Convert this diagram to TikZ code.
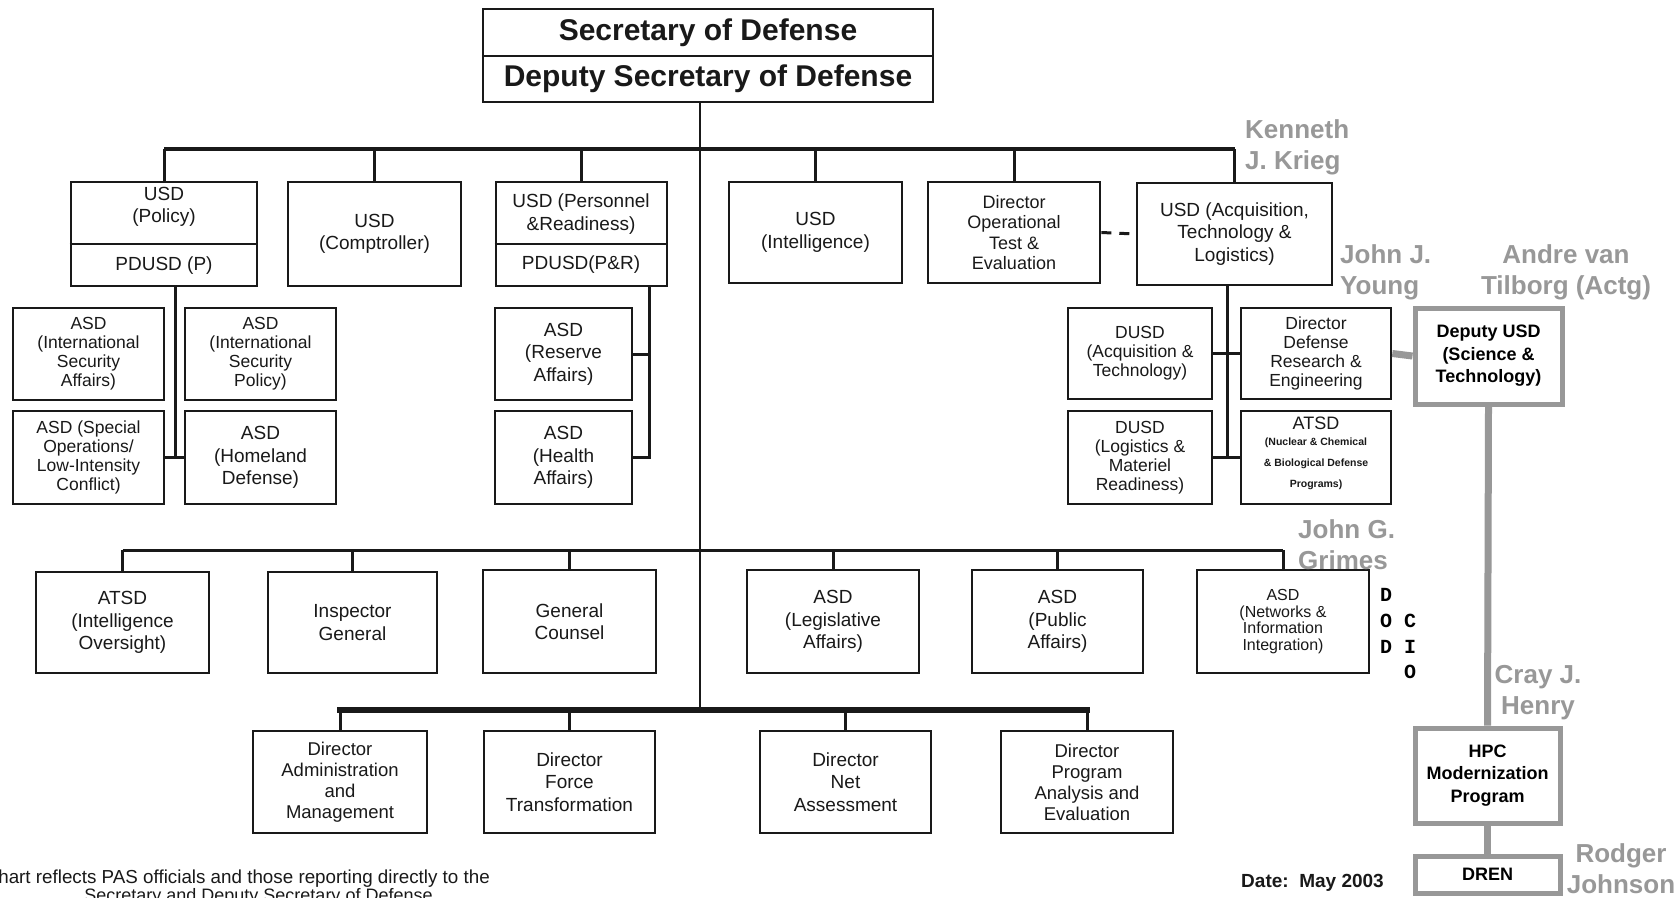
\documentclass[tikz,border=0pt]{standalone}
\usepackage{fontspec}
\setmainfont{Liberation Sans}
\newfontfamily\dodmono{Liberation Mono}
\definecolor{glab}{RGB}{152,152,152}
\definecolor{ink}{RGB}{25,25,25}
\newcommand{\obox}[7][]{\node[box,#1,minimum width={(#4-#2)*1pt},minimum height={(#5-#3)*1pt}] (#6) at ({(#2+#4)/2},{(#3+#5)/2}) {#7};}
\begin{document}
\begin{tikzpicture}[x=1pt,y=-1pt,
 box/.style={draw=ink,line width=2.6pt,fill=white,inner sep=0pt,align=center,text=ink,font=\fontsize{19}{22.5}\selectfont},
 four/.style={font=\fontsize{17.5}{19}\selectfont},
 gbox/.style={draw=glab,line width=5pt,text=black,font=\bfseries\fontsize{18}{22.5}\selectfont},
 conn/.style={draw=ink,line width=3pt},
 thinconn/.style={draw=ink,line width=2pt},
 heavy/.style={draw=ink,line width=6pt,line cap=rect},
 gconn/.style={draw=glab,line width=7pt},
 glabel/.style={text=glab,inner sep=0pt,font=\bfseries\fontsize{26}{31}\selectfont},
 plain/.style={inner sep=0pt,text=ink},
 secfont/.style={font=\bfseries\fontsize{30}{34}\selectfont}]
\useasboundingbox (0,0) rectangle (1680,897);
\fill[white] (0,0) rectangle (1680,897);
\clip (0,0) rectangle (1680,897);

% ---------- top box ----------
\obox[line width=2.4pt]{483}{9}{933}{102}{sec}{}
\draw[ink,line width=2.4pt] (sec.west |- 0,56) -- (sec.east |- 0,56);
\node[plain,secfont] (sec1) at (708,33) {Secretary of Defense};
\node[plain,secfont] (sec2) at (708,79) {Deputy Secretary of Defense};

% ---------- row 1 ----------
\obox{71}{182}{257}{286}{policy}{}
\draw[ink,line width=2.6pt] (policy.west |- 0,244) -- (policy.east |- 0,244);
\node[plain,align=center,font=\fontsize{19}{22.5}\selectfont] (policy1) at (164,207) {USD\\(Policy)};
\node[plain,font=\fontsize{19}{22.5}\selectfont] (policy2) at (164,266) {PDUSD (P)};
\obox{288}{182}{461}{286}{comp}{USD\\(Comptroller)}
\obox{496}{182}{667}{286}{pr}{}
\draw[ink,line width=2.6pt] (pr.west |- 0,244) -- (pr.east |- 0,244);
\node[plain,align=center,font=\fontsize{19}{22.5}\selectfont] (pr1) at (581,214) {USD (Personnel\\\&Readiness)};
\node[plain,font=\fontsize{19}{22.5}\selectfont] (pr2) at (581,265) {PDUSD(P\&R)};
\obox{729}{182}{902}{283}{intel}{USD\\(Intelligence)}
\obox[font=\fontsize{18}{20.5}\selectfont]{928}{182}{1100}{283}{ote}{Director\\Operational\\Test \&\\Evaluation}
\obox{1137}{183}{1332}{285}{atl}{USD (Acquisition,\\Technology \&\\Logistics)}

% ---------- row 2 ----------
\obox[four]{13}{308}{164}{400}{isa}{ASD\\(International\\Security\\Affairs)}
\obox[four]{185}{308}{336}{400}{isp}{ASD\\(International\\Security\\Policy)}
\obox[four]{13}{411}{164}{504}{solic}{ASD (Special\\Operations/\\Low-Intensity\\Conflict)}
\obox{185}{411}{336}{504}{hd}{ASD\\(Homeland\\Defense)}
\obox{495}{308}{632}{400}{ra}{ASD\\(Reserve\\Affairs)}
\obox{495}{411}{632}{504}{ha}{ASD\\(Health\\Affairs)}
\obox[four]{1068}{308}{1212}{399}{dusdat}{DUSD\\(Acquisition \&\\Technology)}
\obox[four]{1241}{308}{1391}{399}{ddre}{Director\\Defense\\Research \&\\Engineering}
\obox[four]{1068}{411}{1212}{504}{dusdlm}{DUSD\\(Logistics \&\\Materiel\\Readiness)}
\obox{1241}{411}{1391}{504}{ncb}{}
\node[plain,font=\fontsize{18}{20}\selectfont] (ncb1) at (1316,423) {ATSD};
\node[plain,font=\bfseries\fontsize{10.5}{12}\selectfont] (ncb2) at (1316,443) {(Nuclear \& Chemical};
\node[plain,font=\bfseries\fontsize{10.5}{12}\selectfont] (ncb3) at (1316,464) {\& Biological Defense};
\node[plain,font=\bfseries\fontsize{10.5}{12}\selectfont] (ncb4) at (1316,485) {Programs)};

\obox[gbox]{1415}{308}{1562}{404}{dep}{Deputy USD\\(Science \&\\Technology)}

% ---------- row 3 ----------
\obox{36}{572}{209}{673}{atsdio}{ATSD\\(Intelligence\\Oversight)}
\obox{268}{572}{437}{673}{ig}{Inspector\\General}
\obox{483}{570}{656}{673}{gc}{General\\Counsel}
\obox{747}{570}{919}{673}{leg}{ASD\\(Legislative\\Affairs)}
\obox{972}{570}{1143}{673}{pub}{ASD\\(Public\\Affairs)}
\obox[font=\fontsize{16}{16.5}\selectfont]{1197}{570}{1369}{673}{net}{ASD\\(Networks \&\\Information\\Integration)}

% ---------- row 4 ----------
\obox[font=\fontsize{18.5}{21}\selectfont]{253}{731}{427}{833}{dam}{Director\\Administration\\and\\Management}
\obox{484}{731}{655}{833}{dft}{Director\\Force\\Transformation}
\obox{760}{731}{931}{833}{dna}{Director\\Net\\Assessment}
\obox[font=\fontsize{18.5}{21}\selectfont]{1001}{731}{1173}{833}{dpae}{Director\\Program\\Analysis and\\Evaluation}

\obox[gbox]{1415}{728}{1560}{823}{hpc}{HPC\\Modernization\\Program}
\obox[gbox]{1415}{856}{1560}{893}{dren}{DREN}

% ---------- connectors ----------
\coordinate (bus1) at (700,149);
\coordinate (bus2) at (700,550);
\coordinate (bus3) at (700,710);
\draw[thinconn] (sec.south -| bus1) -- (bus3);
\draw[conn,line width=4pt] (policy.north |- bus1) -- (atl.north |- bus1);
\foreach \n in {policy,comp,pr,intel,ote,atl} \draw[conn] (\n.north) -- (\n.north |- bus1);
\draw[conn] (atsdio.north |- bus2) -- (net.north |- bus2);
\foreach \n in {atsdio,ig,gc,leg,pub,net} \draw[conn] (\n.north) -- (\n.north |- bus2);
\draw[heavy] (dam.north |- bus3) -- (dpae.north |- bus3);
\foreach \n in {dam,dft,dna,dpae} \draw[conn] (\n.north) -- (\n.north |- bus3);
\draw[conn,dash pattern=on 10pt off 8pt] (ote.east) -- (atl.west);

\coordinate (polv) at (175,286);
\draw[conn] (polv) -- (polv |- solic.east);
\draw[conn] (solic.east) -- (hd.west);
\coordinate (prv) at (649,286);
\draw[conn] (prv) |- (ha.east);
\draw[conn] (ra.east) -- (ra.east -| prv);
\coordinate (atlv) at (1227,285);
\draw[conn] (atlv) -- (atlv |- dusdlm.east);
\draw[conn] (dusdat.east) -- (ddre.west);
\draw[conn] (dusdlm.east) -- (ncb.west);

\draw[gconn] (ddre.east) -- (dep.west);
\draw[gconn] (dep.south) -- (hpc.north);
\draw[gconn] (hpc.south) -- (dren.north);

% ---------- names ----------
\node[glabel,anchor=west,align=left] (krieg) at (1245,147.5) {Kenneth\\J. Krieg};
\node[glabel,anchor=west,align=left] (young) at (1340,272.5) {John J.\\Young};
\node[glabel,align=center] (tilborg) at (1566,272.5) {Andre van\\Tilborg (Actg)};
\node[glabel,anchor=west,align=left] (grimes) at (1298,544.5) {John G.\\Grimes};
\node[glabel,align=center] (henry) at (1538,692.5) {Cray J.\\Henry};
\node[glabel,align=center] (johnson) at (1621,869) {Rodger\\Johnson};

% ---------- DOD CIO ----------
\foreach \ch/\xx/\yy [count=\i] in {D/1386/595,O/1386/621,D/1386/647,C/1410/621,I/1410/647,O/1410/672}
  \node[plain,text=black,font=\dodmono\bfseries\fontsize{20}{20}\selectfont] (dc\i) at (\xx,\yy) {\ch};

% ---------- footer ----------
\node[plain,anchor=east,font=\bfseries\fontsize{19}{22}\selectfont] (date) at (1384,883) {Date:\ \ May 2003};
\node[plain,anchor=base east,font=\fontsize{18.8}{18}\selectfont] (fn1) at (490,883) {Chart reflects PAS officials and those reporting directly to the};
\node[plain,anchor=base,font=\fontsize{18}{18}\selectfont] (fn2) at (261,901) {Secretary and Deputy Secretary of Defense.};
\end{tikzpicture}
\end{document}
